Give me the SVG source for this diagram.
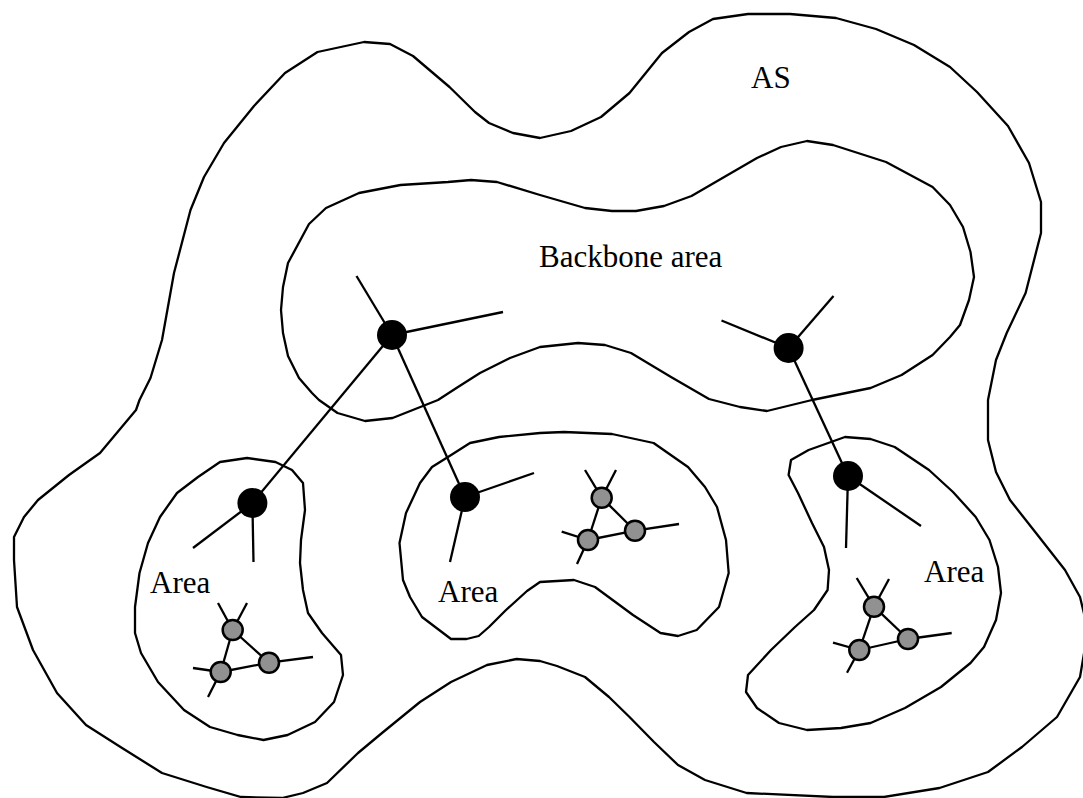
<svg xmlns="http://www.w3.org/2000/svg" width="1083" height="798" viewBox="0 0 1083 798">
<style>
.outline{fill:none;stroke:#000;stroke-width:2.3;stroke-linejoin:round}
.link{stroke:#000;stroke-width:2.3;fill:none;stroke-linecap:butt}
.router{fill:#000}
.host{fill:#919191;stroke:#000;stroke-width:2.5}
.label{font-family:"Liberation Serif","Times New Roman",serif;font-size:31px;fill:#000}
</style>
<rect width="1083" height="798" fill="#fff"/>
<g id="as-region">
<polygon class="outline" points="139.5,400 150.5,378 162,340 174,273 190.5,210 204,177 224,143 254,106 285,73 317.5,52 364,42 390,44 413,56 449.5,87 475,112 489,123 513,133 540,138 571,131 601,117 629.5,93 662,53 689,32 713,19 748,14 790,14 836,18 876,29 914,45 950,67 977,92 1008,126 1029,163 1041,202 1041,233 1025.6,293 1006.7,333 996,360 988,400 988,440 996,472 1010,500 1036,533 1065,570 1080,597 1088,630 1080,677 1057,717 1022,747 988,772 939.5,788 884,797 833,797 746.6,793 705,780 678,765 654,742 629.5,717 609,697 585,677 557,666 540,661 516.6,659 487,665 451,682 420,702 382,733 358,753 327,783 303,793 282,798 241,797 206.6,787 162,773 120.5,747 86,725 57,693 33,650 17,607 14,560 14,537 24,517 38,500 69,475 100,453 136,410"/>
<text class="label" x="751" y="88">AS</text>
</g>
<g id="backbone-area">
<polygon class="outline" points="359,193 400.5,185 448,182 471,180 497,182 540,195 585,208 612,211 636,211 664,206 691.5,196 722.5,178 757,158 781,147 807,141 833,145 886,162 932.6,187 950,205 963,227 970.5,252 974,277 969,300 960,325 950,337 932.6,355 901.6,375 870.6,388 812,400 767,411 740,407 709,399 671,377 631,353 605,345 578,343 540,347 510,358 480,373 458,387 438,400 392.6,418 365,421 337.5,413 319,400 312,393 299,378 288,356 283,333 281,310 283,287 288,263 309,224 326,208"/>
<text class="label" x="539" y="266.5">Backbone area</text>
</g>
<g id="area-left">
<polygon class="outline" points="220,462 247,458 275.5,462 292,470 303,483 305,510 301,540 300,563 303,590 308,613 322,633 341,655 343,675 334,702 315,722 287.6,735 263.5,740 237.6,735 210,727 184,710 158,682 141,653 135,633 135,607 139.5,573 148,543 160,517 177,493 198,477"/>
<text class="label" x="150" y="593">Area</text>
</g>
<g id="area-middle">
<polygon class="outline" points="540,433 564,432 612,434 653.6,443 688,467 705,487 717,507 726,540 728.7,573 719,607 696.7,630 678,636 660.5,633 633,615 595,587 574,580 540,582 527,591 506,610 489,627 478.7,636 466.6,639 451,639 422,617 410,597 403,580 399.5,543 406,513 420,483 432,467 448,457 470,443 499,437"/>
<text class="label" x="438" y="602">Area</text>
</g>
<g id="area-right">
<polygon class="outline" points="791,460 808.6,450 845,437 870.6,439 894.7,447 929,470 953,492 975.7,517 989.5,540 998,567 1001,593 996,620 984,647 970.5,663 941,687 905,708 870.6,723 841,728 807,730 779,723 757,708 746,692 748,675 771,650 795,627 814,610 827.6,590 829,570 824,547 812,523 798,493 788.6,475"/>
<text class="label" x="924" y="582">Area</text>
</g>
<g id="connectors">
<line class="link" x1="392" y1="335" x2="356.5" y2="276"/>
<line class="link" x1="392" y1="335" x2="503" y2="312"/>
<line class="link" x1="392" y1="335" x2="252.4" y2="503"/>
<line class="link" x1="392" y1="335" x2="465" y2="497"/>
<line class="link" x1="788.6" y1="348" x2="721.5" y2="320.5"/>
<line class="link" x1="788.6" y1="348" x2="833.5" y2="296"/>
<line class="link" x1="788.6" y1="348" x2="848" y2="476"/>
<line class="link" x1="252.4" y1="503" x2="193" y2="548"/>
<line class="link" x1="252.4" y1="503" x2="253.5" y2="562"/>
<line class="link" x1="465" y1="497" x2="534" y2="473"/>
<line class="link" x1="465" y1="497" x2="450" y2="562"/>
<line class="link" x1="848" y1="476" x2="846" y2="548"/>
<line class="link" x1="848" y1="476" x2="921" y2="526"/>
<line class="link" x1="232.7" y1="630" x2="218" y2="603"/>
<line class="link" x1="232.7" y1="630" x2="247" y2="603"/>
<line class="link" x1="232.7" y1="630" x2="220.7" y2="672"/>
<line class="link" x1="232.7" y1="630" x2="269" y2="662.7"/>
<line class="link" x1="220.7" y1="672" x2="269" y2="662.7"/>
<line class="link" x1="269" y1="662.7" x2="313" y2="657"/>
<line class="link" x1="220.7" y1="672" x2="193" y2="668"/>
<line class="link" x1="220.7" y1="672" x2="208" y2="697"/>
<line class="link" x1="601.7" y1="497.7" x2="585" y2="470"/>
<line class="link" x1="601.7" y1="497.7" x2="616" y2="470"/>
<line class="link" x1="601.7" y1="497.7" x2="588" y2="540"/>
<line class="link" x1="601.7" y1="497.7" x2="635" y2="530.7"/>
<line class="link" x1="588" y1="540" x2="635" y2="530.7"/>
<line class="link" x1="635" y1="530.7" x2="679" y2="524"/>
<line class="link" x1="588" y1="540" x2="561.7" y2="531.7"/>
<line class="link" x1="588" y1="540" x2="577" y2="564"/>
<line class="link" x1="874" y1="606.7" x2="856.7" y2="578"/>
<line class="link" x1="874" y1="606.7" x2="889" y2="579"/>
<line class="link" x1="874" y1="606.7" x2="859.3" y2="650"/>
<line class="link" x1="874" y1="606.7" x2="908" y2="639"/>
<line class="link" x1="859.3" y1="650" x2="908" y2="639"/>
<line class="link" x1="908" y1="639" x2="951.7" y2="633"/>
<line class="link" x1="859.3" y1="650" x2="833" y2="642.7"/>
<line class="link" x1="859.3" y1="650" x2="847" y2="672.7"/>
</g>
<g id="router-backbone-1"><circle class="router" cx="392" cy="335" r="15"/></g>
<g id="router-backbone-2"><circle class="router" cx="788.6" cy="348" r="15"/></g>
<g id="router-left"><circle class="router" cx="252.4" cy="503" r="15"/></g>
<g id="router-middle"><circle class="router" cx="465" cy="497" r="15"/></g>
<g id="router-right"><circle class="router" cx="848" cy="476" r="15"/></g>
<g id="host-left-1"><circle class="host" cx="232.7" cy="630" r="10"/></g>
<g id="host-left-2"><circle class="host" cx="220.7" cy="672" r="10"/></g>
<g id="host-left-3"><circle class="host" cx="269" cy="662.7" r="10"/></g>
<g id="host-middle-1"><circle class="host" cx="601.7" cy="497.7" r="10"/></g>
<g id="host-middle-2"><circle class="host" cx="588" cy="540" r="10"/></g>
<g id="host-middle-3"><circle class="host" cx="635" cy="530.7" r="10"/></g>
<g id="host-right-1"><circle class="host" cx="874" cy="606.7" r="10"/></g>
<g id="host-right-2"><circle class="host" cx="859.3" cy="650" r="10"/></g>
<g id="host-right-3"><circle class="host" cx="908" cy="639" r="10"/></g>
</svg>
